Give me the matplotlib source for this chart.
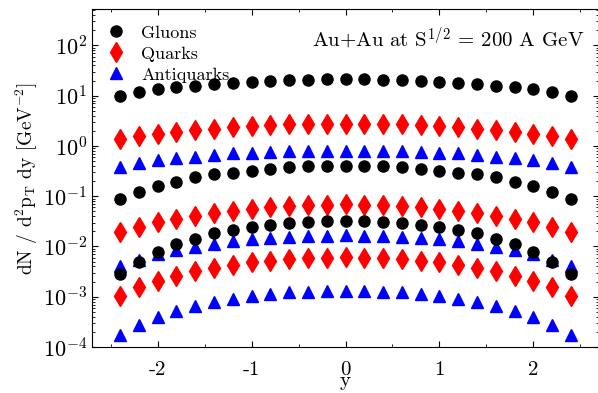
import numpy as np
import matplotlib
matplotlib.use("Agg")
import matplotlib.pyplot as plt
from matplotlib.ticker import LogLocator, FixedLocator, FixedFormatter, NullFormatter

plt.rcParams['font.family'] = 'cmr10'
plt.rcParams['mathtext.fontset'] = 'cm'
plt.rcParams['axes.unicode_minus'] = False
plt.rcParams['axes.formatter.use_mathtext'] = True

# rapidity points
y = np.round(np.arange(-2.4, 2.41, 0.2), 1)

# half profiles from y=-2.4 up to y=0, mirrored to the right side
gluons_hi = [10.0, 11.7, 13.3, 14.7, 15.9, 17.1, 18.0, 19.0, 19.8, 20.4, 20.9, 21.1, 21.2]
quarks_hi = [1.38, 1.55, 1.75, 1.90, 2.05, 2.20, 2.35, 2.50, 2.60, 2.70, 2.74, 2.75, 2.76]
anti_hi = [0.387, 0.453, 0.519, 0.569, 0.612, 0.653, 0.716, 0.736, 0.76, 0.785, 0.806, 0.806, 0.806]

gluons_mid = [0.089, 0.123, 0.162, 0.195, 0.242, 0.273, 0.294, 0.318, 0.349, 0.377, 0.395, 0.405, 0.405]
quarks_mid = [0.0197, 0.0241, 0.0303, 0.0353, 0.041, 0.0471, 0.0516, 0.0557, 0.0602, 0.064, 0.067, 0.068, 0.069]
anti_mid = [0.0041, 0.0054, 0.0070, 0.0085, 0.0099, 0.0112, 0.0129, 0.0139, 0.0146, 0.0157, 0.0162, 0.0165, 0.0166]

gluons_lo = [0.0028, 0.0050, 0.0079, 0.0111, 0.0141, 0.0183, 0.0213, 0.0241, 0.0268, 0.029, 0.0303, 0.032, 0.0326]
quarks_lo = [0.00103, 0.00154, 0.00206, 0.00259, 0.00325, 0.00368, 0.00428, 0.00485, 0.00515, 0.00556, 0.00582, 0.00598, 0.0061]
anti_lo = [0.000173, 0.000274, 0.00039, 0.00052, 0.000655, 0.000787, 0.0009, 0.00103, 0.00113, 0.00122, 0.00126, 0.0013, 0.0013]

xticks = [-2, -1, 0, 1, 2]
xticklabels = ['-2', '-1', '0', '1', '2']


def full(half):
    half = list(half)
    return np.array(half + half[-2::-1])


fig = plt.figure(figsize=(5.98, 3.93), dpi=100)
ax = fig.add_axes([0.1538, 0.117, 0.848, 0.86])

gstyle = dict(marker='o', color='black', ms=8, ls='none')
qstyle = dict(marker='d', color='red', ms=10, ls='none')
astyle = dict(marker='^', color='blue', ms=8, ls='none')

ax.plot(y, full(gluons_hi), label='Gluons', **gstyle)
ax.plot(y, full(quarks_hi), label='Quarks', **qstyle)
ax.plot(y, full(anti_hi), label='Antiquarks', **astyle)
ax.plot(y, full(gluons_mid), **gstyle)
ax.plot(y, full(quarks_mid), **qstyle)
ax.plot(y, full(anti_mid), **astyle)
ax.plot(y, full(gluons_lo), **gstyle)
ax.plot(y, full(quarks_lo), **qstyle)
ax.plot(y, full(anti_lo), **astyle)

ax.set_yscale('log')
ax.set_ylim(1e-4, 530)
ax.set_xlim(-2.7, 2.7)

ax.yaxis.set_major_locator(LogLocator(base=10, numticks=10))
ax.yaxis.set_minor_locator(LogLocator(base=10, subs=np.arange(2, 10), numticks=20))
ax.yaxis.set_minor_formatter(NullFormatter())
ax.xaxis.set_major_locator(FixedLocator(xticks))
ax.xaxis.set_major_formatter(FixedFormatter(xticklabels))
ax.xaxis.set_minor_locator(FixedLocator([-2.5, -1.5, -0.5, 0.5, 1.5, 2.5]))

ax.tick_params(which='both', direction='in', top=True, right=True, labelsize=16)
ax.tick_params(which='major', length=4, width=0.8)
ax.tick_params(which='minor', length=2, width=0.6)
ax.tick_params(axis='x', pad=10, labelsize=15)

ax.set_xlabel('y', fontsize=15, labelpad=-5)
ax.set_ylabel(r'dN / d$^2$p$_{\rm T}$ dy [GeV$^{-2}$]', fontsize=14, labelpad=2)

ax.text(0.97, 0.915, r'Au+Au at S$^{1/2}$ = 200 A GeV', transform=ax.transAxes,
        ha='right', va='center', fontsize=15)

leg = ax.legend(loc='upper left', frameon=False, fontsize=13, handletextpad=0.9,
                borderaxespad=0.3, labelspacing=0.3, handlelength=1.0,
                bbox_to_anchor=(0.005, 0.99))

fig.savefig('out.png', dpi=100)
